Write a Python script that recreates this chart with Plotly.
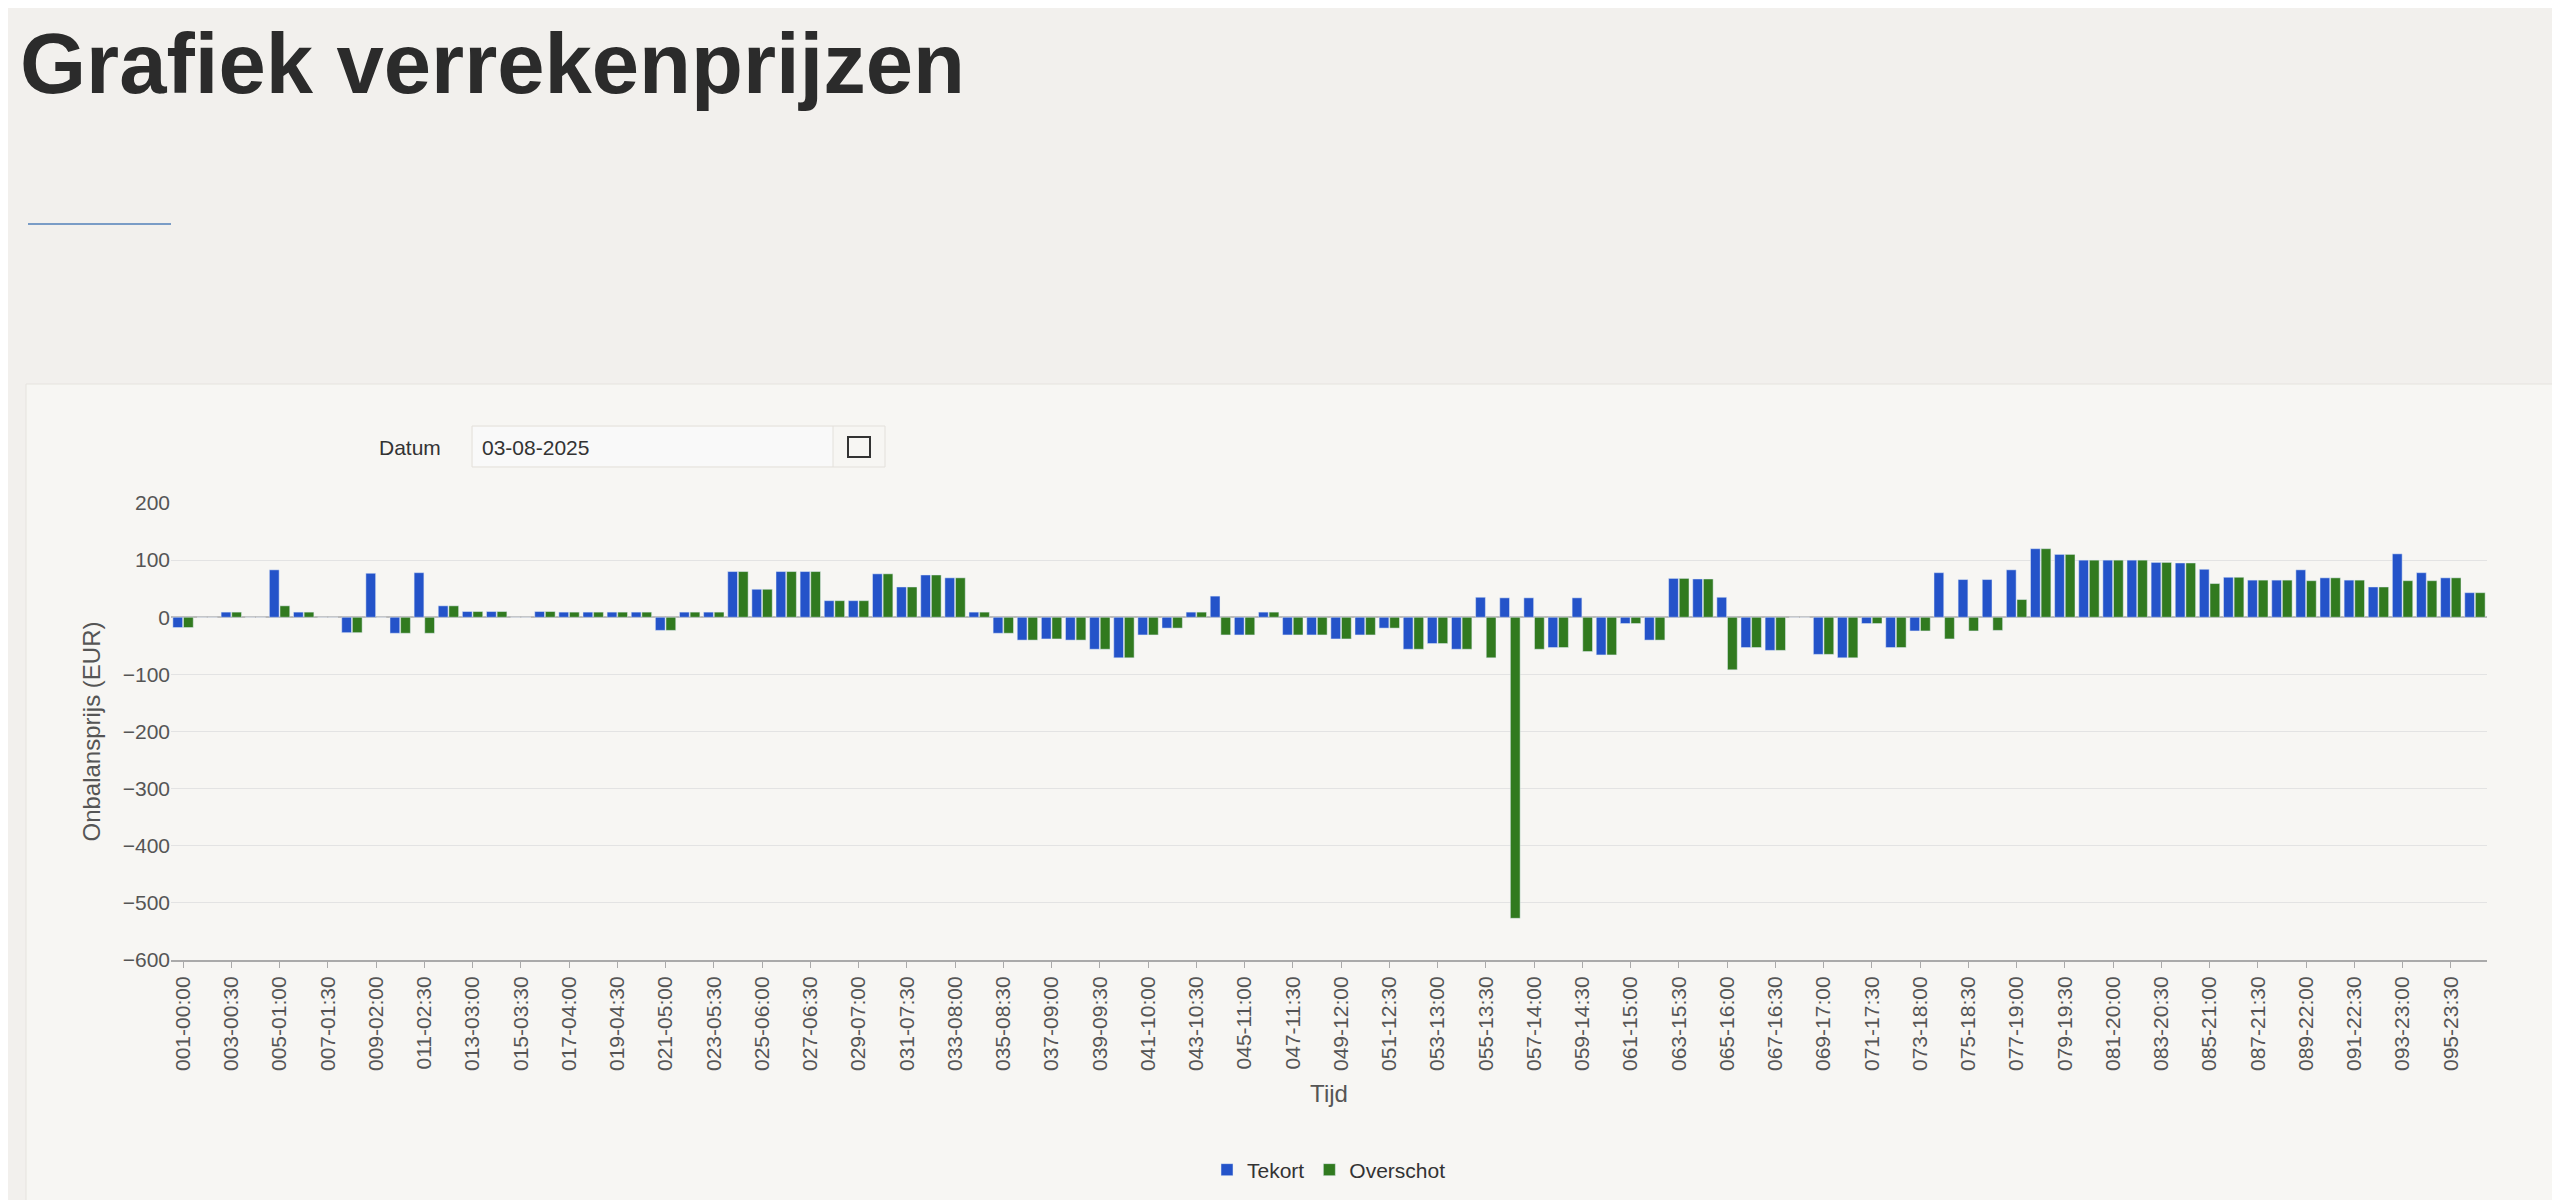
import plotly.graph_objects as go

tekort = [-18,0,9,0,83,9,0,-27,77,-28,78,20,10,10,0,10,9,9,9,9,-23,9,9,80,
          49,80,80,29,29,76,53,74,69,9,-28,-40,-38,-40,-56,-71,-31,-19,9,37,-31,9,-31,-31,
          -38,-31,-19,-56,-46,-56,35,34,34,-53,34,-66,-11,-40,68,67,35,-53,-58,0,-65,-71,-11,-53,
          -24,78,66,66,83,120,110,100,100,100,96,95,84,70,65,65,83,69,65,53,111,78,69,43]
overschot = [-18,0,9,0,20,9,0,-27,0,-28,-28,20,10,10,0,10,9,9,9,9,-23,9,9,80,
             49,80,80,29,29,76,53,74,69,9,-28,-40,-38,-40,-56,-71,-31,-19,9,-31,-31,9,-31,-31,
             -38,-31,-19,-56,-46,-56,-71,-527,-56,-53,-60,-66,-11,-40,68,67,-92,-53,-58,0,-65,-71,-11,-53,
             -24,-38,-24,-23,31,120,110,100,100,100,96,95,59,70,65,65,64,69,65,53,64,64,69,43]
categories = [f"{i+1:03d}-{(i*15)//60:02d}:{(i*15)%60:02d}" for i in range(96)]
tick_labels = categories[::2]

W, H = 2560, 1200
L, R, T, B = 163, 2479, 495, 952
def px(x): return (x - L) / (R - L)
def py(y): return (B - y) / (B - T)

fig = go.Figure()
fig.add_bar(x=categories, y=tekort, name="Tekort", marker_color="#2453c9")
fig.add_bar(x=categories, y=overschot, name="Overschot", marker_color="#317a1f")

shapes = [
    dict(type="rect", xref="paper", yref="paper", x0=px(18), x1=px(2545), y0=py(376), y1=py(1205),
         fillcolor="#f7f6f3", line=dict(color="#e6e3de", width=1), layer="below"),
    dict(type="line", xref="paper", yref="paper", x0=px(20), x1=px(163), y0=py(216), y1=py(216),
         line=dict(color="#7a9cc6", width=2)),
    dict(type="rect", xref="paper", yref="paper", x0=px(464), x1=px(877), y0=py(418), y1=py(459),
         fillcolor="#f7f6f3", line=dict(color="#e3e0db", width=1)),
    dict(type="rect", xref="paper", yref="paper", x0=px(465), x1=px(825), y0=py(419), y1=py(458),
         fillcolor="#f9f9f9", line=dict(width=0)),
    dict(type="line", xref="paper", yref="paper", x0=px(825), x1=px(825), y0=py(418), y1=py(459),
         line=dict(color="#e3e0db", width=1)),
    dict(type="rect", xref="paper", yref="paper", x0=px(840), x1=px(862), y0=py(429), y1=py(449),
         line=dict(color="#333", width=2)),
]
annotations = [
    dict(text="<b>Grafiek verrekenprijzen</b>", xref="paper", yref="paper", x=px(10), y=py(55),
         xanchor="left", yanchor="middle", showarrow=False,
         font=dict(size=85, color="#2b2b2b", family="Liberation Sans")),
    dict(text="Datum", xref="paper", yref="paper", x=px(369), y=py(439), xanchor="left", yanchor="middle",
         showarrow=False, font=dict(size=21, color="#333")),
    dict(text="03-08-2025", xref="paper", yref="paper", x=px(472), y=py(439), xanchor="left", yanchor="middle",
         showarrow=False, font=dict(size=21, color="#333")),
]

fig.update_layout(
    width=W, height=H, margin=dict(l=L, r=W - R, t=T, b=H - B, autoexpand=False),
    paper_bgcolor="#f2f0ed", plot_bgcolor="#f7f6f3",
    font=dict(family="Liberation Sans", size=21, color="#555"),
    barmode="group", bargap=0.12, bargroupgap=0.08,
    shapes=shapes, annotations=annotations,
    legend=dict(orientation="h", x=0.5, xanchor="center", y=py(1162), yanchor="middle",
                font=dict(size=21, color="#333"), bgcolor="rgba(0,0,0,0)"),
    xaxis=dict(tickmode="array", tickvals=tick_labels, ticktext=tick_labels, tickangle=-90,
               title=dict(text="Tijd", font=dict(size=24, color="#555")),
               showline=True, linecolor="#aaa", linewidth=2, ticks="outside", tickcolor="#aaa",
               ticklen=6, showgrid=False),
    yaxis=dict(range=[-600, 200], dtick=100, gridcolor="#e3e3e3", zeroline=True,
               zerolinecolor="#bbb", zerolinewidth=2,
               title=dict(text="Onbalansprijs (EUR)", font=dict(size=24, color="#555"))),
)
fig.write_html("out.html")
